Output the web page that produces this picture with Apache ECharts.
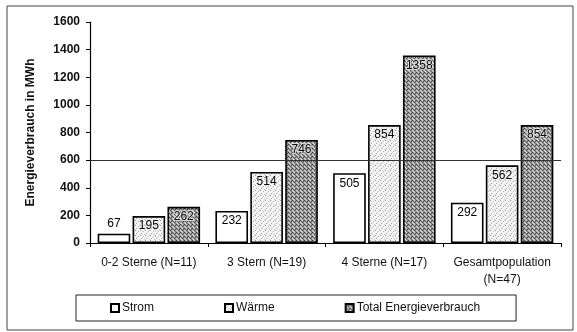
<!DOCTYPE html>
<html>
<head>
<meta charset="utf-8">
<script src="https://cdn.jsdelivr.net/npm/echarts@6/dist/echarts.min.js"></script>
<style>
  html, body { margin: 0; padding: 0; background: #fff; }
  #chart { width: 577px; height: 332px; }
</style>
</head>
<body>
<div id="chart"></div>
<script>
// Energy consumption per hotel class (MWh)
const categories = ['0-2 Sterne (N=11)', '3 Stern (N=19)', '4 Sterne (N=17)', 'Gesamtpopulation\n(N=47)'];
const seriesNames = ['Strom', 'Wärme', 'Total Energieverbrauch'];
const strom = [67, 232, 505, 292];
const waerme = [195, 514, 854, 562];
const total = [262, 746, 1358, 854];
const yTicks = { min: 0, max: 1600, step: 200 };
const referenceLevel = 600;

// Small stipple textures for the hatched bars
function makePattern(size, bg, dots) {
  const c = document.createElement('canvas');
  c.width = size; c.height = size;
  const ctx = c.getContext('2d');
  ctx.fillStyle = bg;
  ctx.fillRect(0, 0, size, size);
  dots.forEach(([x, y, col]) => {
    ctx.fillStyle = col;
    ctx.fillRect(x, y, 1, 1);
  });
  return c;
}

const lightDots = makePattern(5, '#f4f4f4', [
  [0, 0, '#9a9a9a'], [3, 1, '#b5b5b5'], [1, 3, '#a8a8a8'], [4, 4, '#c4c4c4'], [2, 2, '#dcdcdc']
]);
const darkDots = makePattern(4, '#9c9c9c', [
  [0, 0, '#3c3c3c'], [2, 0, '#d8d8d8'], [1, 1, '#6a6a6a'], [3, 1, '#4a4a4a'],
  [0, 2, '#cfcfcf'], [2, 2, '#505050'], [1, 3, '#e0e0e0'], [3, 3, '#747474'],
  [3, 0, '#888888'], [1, 2, '#b0b0b0']
]);

const fills = [
  '#ffffff',
  { image: lightDots, repeat: 'repeat' },
  { image: darkDots, repeat: 'repeat' }
];

const FONT = '"Liberation Sans", Arial, sans-serif';

function barSeries(name, values, fill, idx) {
  return {
    name: name,
    type: 'bar',
    data: values.map(v => ({
      value: v,
      label: { position: v < 100 ? 'top' : 'insideTop' }
    })),
    itemStyle: { color: fill, borderColor: '#000', borderWidth: 1.6 },
    label: {
      show: true,
      distance: 4,
      color: '#000',
      fontFamily: FONT,
      fontSize: 12,
      textBorderColor: idx === 2 ? 'rgba(235,235,235,0.85)' : 'rgba(255,255,255,0.6)',
      textBorderWidth: idx === 2 ? 2 : 1
    },
    barGap: '7%',
    barCategoryGap: '13%'
  };
}

const series = [
  barSeries(seriesNames[0], strom, fills[0], 0),
  barSeries(seriesNames[1], waerme, fills[1], 1),
  barSeries(seriesNames[2], total, fills[2], 2)
];
series[2].markLine = {
  silent: true,
  symbol: 'none',
  label: { show: false },
  lineStyle: { color: '#333', width: 1, type: 'solid' },
  data: [{ yAxis: referenceLevel }],
  z: 10
};

const chart = echarts.init(document.getElementById('chart'), null, { renderer: 'canvas' });
chart.setOption({
  animation: false,
  backgroundColor: '#fff',
  textStyle: { fontFamily: FONT },
  grid: { left: 90, right: 16, top: 22, bottom: 89 },
  legend: {
    data: seriesNames,
    left: 76,
    top: 295,
    padding: [7, 36, 7, 34],
    itemGap: 70,
    itemWidth: 8,
    itemHeight: 8,
    icon: 'rect',
    borderColor: '#222',
    borderWidth: 1,
    textStyle: { fontFamily: FONT, fontSize: 12, color: '#111', padding: [0, 0, 0, -2] }
  },
  xAxis: {
    type: 'category',
    data: categories,
    axisLine: { lineStyle: { color: '#000', width: 1 } },
    axisTick: { show: true, length: 4, lineStyle: { color: '#000' } },
    axisLabel: { color: '#111', fontFamily: FONT, fontSize: 12, margin: 11, lineHeight: 17, interval: 0 }
  },
  yAxis: {
    type: 'value',
    min: yTicks.min,
    max: yTicks.max,
    interval: yTicks.step,
    name: 'Energieverbrauch in MWh',
    nameLocation: 'middle',
    nameGap: 53,
    nameTextStyle: { color: '#111', fontFamily: FONT, fontSize: 12, fontWeight: 'bold' },
    axisLine: { show: true, lineStyle: { color: '#000', width: 1.2 } },
    axisTick: { show: true, length: 4, lineStyle: { color: '#000' } },
    splitLine: { show: false },
    axisLabel: {
      color: '#111', fontFamily: FONT, fontSize: 12, fontWeight: 'bold', margin: 10,
      formatter: v => String(v)
    }
  },
  graphic: [{
    type: 'rect',
    shape: { x: 7, y: 6, width: 566, height: 324 },
    style: { fill: 'none', stroke: '#444', lineWidth: 1 },
    silent: true,
    z: -1
  }],
  series: series
});
</script>
</body>
</html>
